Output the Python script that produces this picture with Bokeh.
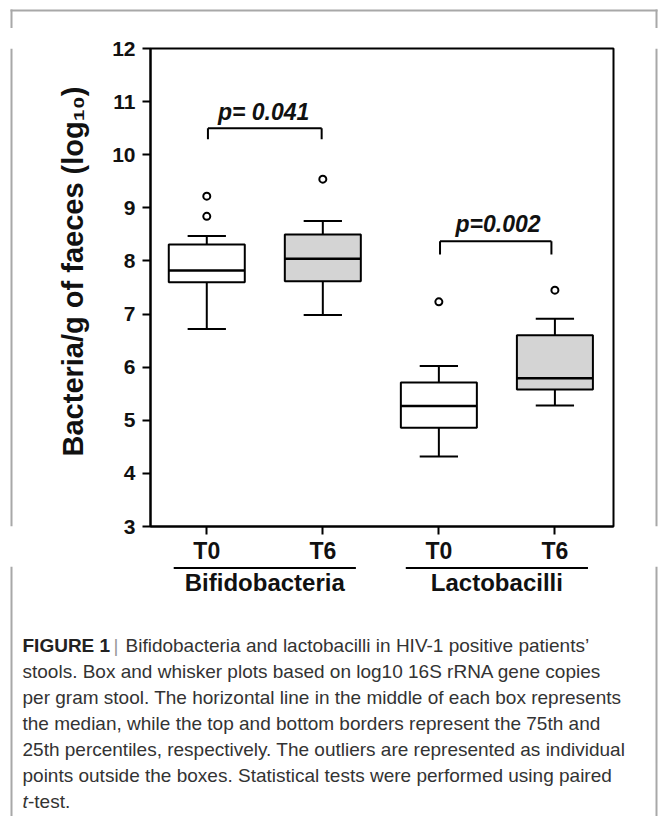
import math
from bokeh.plotting import figure
from bokeh.layouts import column, row
from bokeh.models import Range1d, FixedTicker, Span
from bokeh.embed import file_html
from bokeh.resources import INLINE
from bokeh.core.properties import value

# ---------------- data ----------------
groups = ["Bifidobacteria", "Lactobacilli"]
group_centers = [1.5, 3.5]
timepoints = ["T0", "T6", "T0", "T6"]
positions = [1, 2, 3, 4]
whisker_low = [6.72, 6.98, 4.32, 5.28]
q1 = [7.60, 7.62, 4.86, 5.58]
median = [7.82, 8.04, 5.27, 5.79]
q3 = [8.31, 8.50, 5.71, 6.60]
whisker_high = [8.47, 8.75, 6.02, 6.91]
outlier_pos = [1, 1, 2, 3, 4]
outlier_val = [8.84, 9.22, 9.54, 7.23, 7.45]
box_fill = ["white", "#d4d4d4", "white", "#d4d4d4"]
p_texts = ["p= 0.041", "p=0.002"]
bracket_left = [1.01, 3.01]
bracket_right = [1.99, 3.97]
bracket_top = [10.50, 8.37]
bracket_drop = [10.29, 8.12]
p_text_x = [1.49, 3.51]
p_text_y = [10.81, 8.69]
yticks = list(range(3, 13))
y_label = "Bacteria/g of faeces (log\u2081\u2080)"
caption_title = "FIGURE 1"
caption_lines = [
    "Bifidobacteria and lactobacilli in HIV-1 positive patients\u2019",
    "stools. Box and whisker plots based on log10 16S rRNA gene copies",
    "per gram stool. The horizontal line in the middle of each box represents",
    "the median, while the top and bottom borders represent the 75th and",
    "25th percentiles, respectively. The outliers are represented as individual",
    "points outside the boxes. Statistical tests were performed using paired",
    "-test.",
]

# ---------------- geometry (page pixels) ----------------
PAGE_W = 665
FRAME_L, FRAME_R, FRAME_T, FRAME_B = 150, 613, 48, 526
X0, X1 = 0.515, 4.505
Y0, Y1 = 3, 12
FONT = "Liberation Sans"
FR = "#a8a8a8"          # outer figure frame colour
BOX_L, BOX_T, BOX_R = 11, 10, 656

TOP_H = 28
MAIN_BL, MAIN_BR, MAIN_BT, MAIN_BB = 50, 2, FRAME_T - TOP_H, 40
MAIN_W = MAIN_BL + (FRAME_R - FRAME_L) + MAIN_BR
MAIN_H = MAIN_BT + (FRAME_B - FRAME_T) + MAIN_BB
LEFT_W = FRAME_L - MAIN_BL
RIGHT_W = PAGE_W - LEFT_W - MAIN_W
MID_TOP = TOP_H
MID_BOT = TOP_H + MAIN_H
BOT_H = 816 - MID_BOT


def px(xp):
    """page x pixel -> chart data x"""
    return X0 + (xp - FRAME_L) * (X1 - X0) / (FRAME_R - FRAME_L)


def strip(w, h, xr, y_top, y_bot):
    # y is stored as minus the page pixel so that the range is not flipped
    f = figure(width=w, height=h, x_range=xr, y_range=Range1d(-y_bot, -y_top),
               output_backend="svg", toolbar_location=None,
               x_axis_type=None, y_axis_type=None,
               min_border=0, min_border_left=0, min_border_right=0,
               min_border_top=0, min_border_bottom=0)
    f.outline_line_color = None
    f.grid.visible = False
    f.background_fill_color = "white"
    f.border_fill_color = "white"
    return f


def neg(vals):
    return [-v for v in vals]


def side_line(f, x):
    f.add_layout(Span(location=x, dimension="height", line_color=FR, line_width=2))


# ---------------- main chart ----------------
p = figure(width=MAIN_W, height=MAIN_H, output_backend="svg", toolbar_location=None,
           x_range=Range1d(X0, X1), y_range=Range1d(Y0, Y1),
           min_border_left=MAIN_BL, min_border_right=MAIN_BR,
           min_border_top=MAIN_BT, min_border_bottom=MAIN_BB)
p.grid.visible = False
p.outline_line_color = "black"
p.outline_line_width = 2
p.background_fill_color = "white"
p.border_fill_color = "white"

for ax in (p.xaxis[0], p.yaxis[0]):
    ax.axis_line_width = 2
    ax.axis_line_color = "black"
    ax.major_tick_line_width = 2
    ax.major_tick_in = 0
    ax.major_tick_out = 8
    ax.minor_tick_line_color = None
    ax.major_label_text_font = FONT
    ax.major_label_text_font_style = "bold"
    ax.major_label_text_color = "#111111"

p.yaxis.ticker = FixedTicker(ticks=yticks)
p.yaxis.major_label_text_font_size = "21px"
p.yaxis.major_label_standoff = 7
p.xaxis.ticker = FixedTicker(ticks=positions)
p.xaxis.major_label_overrides = {pos: lab for pos, lab in zip(positions, timepoints)}
p.xaxis.major_label_text_font_size = "23px"
p.xaxis.major_label_standoff = 3

BOX_W = 0.655
CAP_W = 0.33
p.vbar(x=positions, width=BOX_W, bottom=q1, top=q3, fill_color=box_fill,
       line_color="black", line_width=2)
p.segment(x0=[x - BOX_W / 2 for x in positions], y0=median,
          x1=[x + BOX_W / 2 for x in positions], y1=median,
          line_color="black", line_width=2.5)
p.segment(x0=positions, y0=q3, x1=positions, y1=whisker_high, line_color="black", line_width=2)
p.segment(x0=positions, y0=q1, x1=positions, y1=whisker_low, line_color="black", line_width=2)
p.segment(x0=[x - CAP_W / 2 for x in positions], y0=whisker_high,
          x1=[x + CAP_W / 2 for x in positions], y1=whisker_high, line_color="black", line_width=2)
p.segment(x0=[x - CAP_W / 2 for x in positions], y0=whisker_low,
          x1=[x + CAP_W / 2 for x in positions], y1=whisker_low, line_color="black", line_width=2)
p.scatter(x=outlier_pos, y=outlier_val, marker="circle", size=7, fill_color="white",
          line_color="black", line_width=2)

p.segment(x0=bracket_left, y0=bracket_top, x1=bracket_right, y1=bracket_top,
          line_color="black", line_width=2)
p.segment(x0=bracket_left, y0=bracket_top, x1=bracket_left, y1=bracket_drop,
          line_color="black", line_width=2)
p.segment(x0=bracket_right, y0=bracket_top, x1=bracket_right, y1=bracket_drop,
          line_color="black", line_width=2)
p.text(x=p_text_x, y=p_text_y, text=p_texts, text_font=value(FONT),
       text_font_style="bold italic", text_font_size="23px", text_align="center",
       text_baseline="middle", text_color="#111111")

# ---------------- top strip (outer frame top) ----------------
top = strip(PAGE_W, TOP_H, Range1d(0, PAGE_W), 0, TOP_H)
top.quad(left=[BOX_L - 1], right=[BOX_R + 1], top=neg([BOX_T - 1]), bottom=neg([BOX_T + 1]),
         fill_color=FR, line_color=None)
top.quad(left=[BOX_L - 1, BOX_R - 1], right=[BOX_L + 1, BOX_R + 1],
         top=neg([BOX_T - 1] * 2), bottom=neg([TOP_H + 2] * 2), fill_color=FR, line_color=None)

# ---------------- left strip (frame side + y label) ----------------
left = strip(LEFT_W, MAIN_H, Range1d(0, LEFT_W), MID_TOP, MID_BOT)
side_line(left, BOX_L)
left.text(x=[72], y=neg([279]), text=[y_label], angle=math.pi / 2, text_align="center",
          text_baseline="middle", text_font=value(FONT), text_font_style="bold",
          text_font_size="29px", text_color="#111111")

# ---------------- right strip ----------------
right = strip(RIGHT_W, MAIN_H, Range1d(PAGE_W - RIGHT_W, PAGE_W), MID_TOP, MID_BOT)
side_line(right, BOX_R)

# ---------------- bottom: group labels + caption ----------------
bot = strip(PAGE_W, BOT_H, Range1d(px(0), px(PAGE_W)), MID_BOT, MID_BOT + BOT_H)
side_line(bot, px(BOX_L))
side_line(bot, px(BOX_R))
bot.segment(x0=[c - 0.785 for c in group_centers], y0=neg([567.5] * 2),
            x1=[c + 0.785 for c in group_centers], y1=neg([567.5] * 2),
            line_color="black", line_width=2)
bot.text(x=group_centers, y=neg([582] * 2), text=groups, text_align="center",
         text_baseline="middle", text_font=value(FONT), text_font_style="bold",
         text_font_size="24px", text_color="#111111")

CAP_SIZE = "19px"
CAP_COLOR = "#333333"
line_y = [645 + 26 * i for i in range(len(caption_lines))]
line_x = [125] + [22] * (len(caption_lines) - 2) + [27.5]
bot.text(x=[px(v) for v in line_x], y=neg(line_y), text=caption_lines, text_baseline="middle",
         text_font=value(FONT), text_font_size=CAP_SIZE, text_color=CAP_COLOR)
bot.text(x=[px(22)], y=neg([line_y[0]]), text=[caption_title], text_baseline="middle",
         text_font=value(FONT), text_font_style="bold", text_font_size=CAP_SIZE,
         text_color="#222222")
bot.text(x=[px(113)], y=neg([line_y[0]]), text=["|"], text_baseline="middle",
         text_font=value(FONT), text_font_size=CAP_SIZE, text_color="#999999")
bot.text(x=[px(22)], y=neg([line_y[-1]]), text=["t"], text_baseline="middle",
         text_font=value(FONT), text_font_style="italic", text_font_size=CAP_SIZE,
         text_color=CAP_COLOR)

layout = column(top, row(left, p, right), bot)
open("out.html", "w").write(file_html(layout, INLINE))
